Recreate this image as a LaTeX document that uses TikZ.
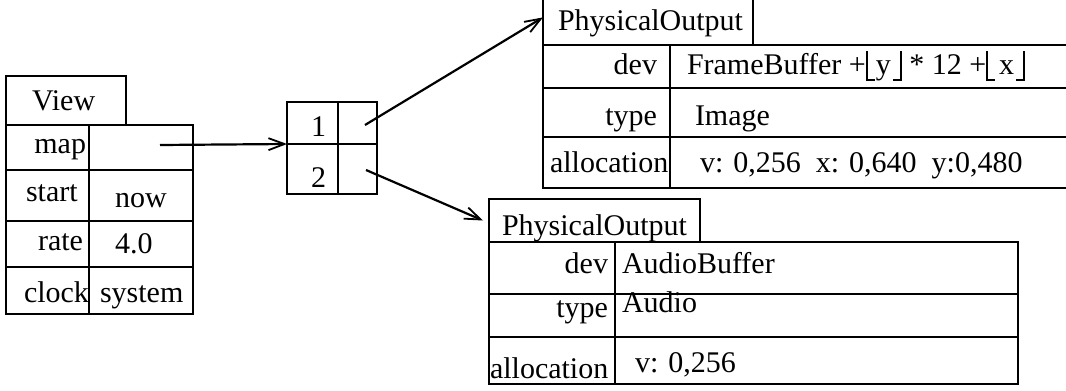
\documentclass[tikz,border=0pt]{standalone}
\usepackage{fontspec}
\setmainfont{Liberation Serif}
\usetikzlibrary{arrows.meta,calc}

% one drawn table cell: name, left, top, right, bottom (y grows downward)
\newcommand\tcell[5]{%
  \node[box, minimum width=#4pt-#2pt, minimum height=#5pt-#3pt] (#1) at (#2,#3) {};}
% floor brackets built from rules
\newcommand\lflr{\rule[-7pt]{2pt}{30pt}\kern-2pt\rule[-7pt]{9pt}{2pt}}
\newcommand\rflr{\rule[-7pt]{9pt}{2pt}\kern-2pt\rule[-7pt]{2pt}{30pt}}
\newcommand\flr[2]{\lflr\kern#1#2\kern2pt\rflr}

\tikzset{
  box/.style={draw, line width=2.4pt, inner sep=0pt, outer sep=0pt, anchor=north west},
  lbl/.style={inner sep=0pt, outer sep=0pt, font=\fontsize{30}{36}\selectfont},
  lft/.style={lbl, anchor=base west},
  rgt/.style={lbl, anchor=base east},
  ptr/.style={line width=2.2pt, -{Straight Barb[length=16pt,width=12pt,line width=1.8pt]}},
}

\begin{document}
\begin{tikzpicture}[x=1pt, y=-1pt]
\useasboundingbox (0,0) rectangle (1066,391);

% ---- View object ----
\tcell{viewtab}{6}{76}{126}{125}
\tcell{vk1}{6}{125}{89}{170}   \tcell{vv1}{89}{125}{193}{170}
\tcell{vk2}{6}{170}{89}{221}   \tcell{vv2}{89}{170}{193}{221}
\tcell{vk3}{6}{221}{89}{267}   \tcell{vv3}{89}{221}{193}{267}
\tcell{vk4}{6}{267}{89}{314}   \tcell{vv4}{89}{267}{193}{314}
\node[lft] (viewname) at (32,110) {View};
\node[rgt] (tmap)   at (86,153) {map};
\node[lft] (tstart) at (26,201) {start};
\node[lft] (tnow)   at (115,207) {now};
\node[rgt] (trate)  at (83,250) {rate};
\node[lft] (tfour)  at (115,253) {4.0};
\node[lft] (tclock) at (24,302) {clock};
\node[lft] (tsys)   at (100,302) {system};

% ---- two-slot array ----
\tcell{a11}{287}{102}{338}{144}  \tcell{a12}{338}{102}{377}{144}
\tcell{a21}{287}{144}{338}{194}  \tcell{a22}{338}{144}{377}{194}
\node[rgt] (tone) at (326,136) {1};
\node[rgt] (ttwo) at (326,187) {2};

% ---- first PhysicalOutput ----
\tcell{tab1}{543}{-1}{753}{45}
\tcell{ak1}{543}{45}{670}{88}    \tcell{av1}{670}{45}{1080}{88}
\tcell{ak2}{543}{88}{670}{137}   \tcell{av2}{670}{88}{1080}{137}
\tcell{ak3}{543}{137}{670}{188}  \tcell{av3}{670}{137}{1080}{188}
\node[lft] (aname) at (558,30) {PhysicalOutput};
\node[rgt] (adev)  at (657,74) {dev};
\node[lft] (adevv) at (687,74) {FrameBuffer +\flr{1pt}{y} * 12 +\flr{4pt}{x}};
\node[rgt] (atype) at (657,125) {type};
\node[lft] (atypev) at (695,125) {Image};
\node[lft] (aalloc) at (550,172) {allocation};
\node[lft] (aallocv) at (700,172) {v: 0,256\ \ x: 0,640\ \ y:0,480};

% ---- second PhysicalOutput ----
\tcell{tab2}{489}{199}{700}{242}
\tcell{bk1}{489}{242}{615}{294}  \tcell{bv1}{615}{242}{1018}{294}
\tcell{bk2}{489}{294}{615}{337}  \tcell{bv2}{615}{294}{1018}{337}
\tcell{bk3}{489}{337}{615}{384}  \tcell{bv3}{615}{337}{1018}{384}
\node[lft] (bname) at (502,235) {PhysicalOutput};
\node[rgt] (bdev)  at (608,273) {dev};
\node[lft] (bdevv) at (622,273) {AudioBuffer};
\node[rgt] (btype) at (608,317) {type};
\node[lft] (btypev) at (622,312) {Audio};
\node[lft] (balloc) at (490,378) {allocation};
\node[lft] (ballocv) at (635,372) {v: 0,256};

% ---- pointers ----
\coordinate (mapptr) at (160,145);
\coordinate (p1) at (365,125);
\coordinate (p2) at (366,170);
\draw[ptr] (mapptr) -- (a11.south west);
\draw[ptr] (p1) -- ($(tab1.north west)!0.4!(tab1.south west)$);
\draw[ptr] (p2) -- ($(tab2.west)+(-6,0)$);
\end{tikzpicture}
\end{document}
